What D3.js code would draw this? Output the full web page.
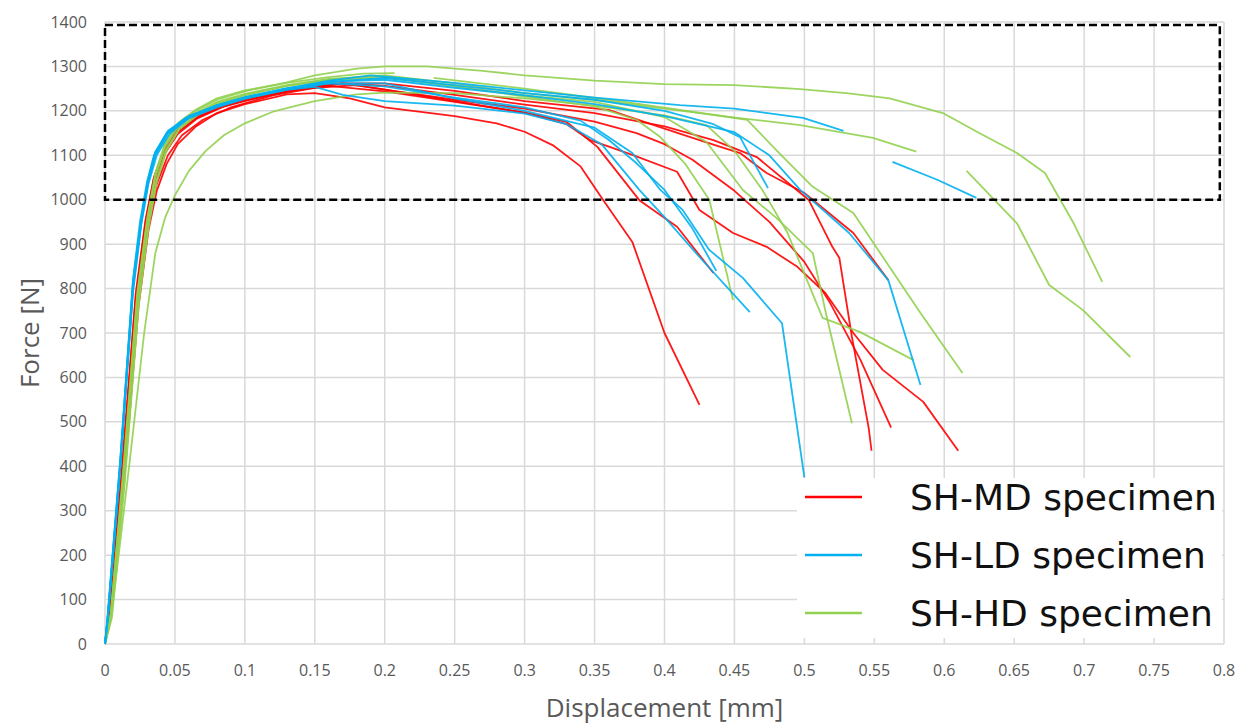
<!DOCTYPE html>
<html>
<head>
<meta charset="utf-8">
<script src="https://cdn.jsdelivr.net/npm/d3@7"></script>
<style>
  body { margin: 0; background: #fff; }
  svg { display: block; }
</style>
</head>
<body>
<div id="chart"></div>
<script>
// Force-displacement curves. null = gap in the data.
const xTicks = [0, 0.05, 0.1, 0.15, 0.2, 0.25, 0.3, 0.35, 0.4, 0.45, 0.5, 0.55, 0.6, 0.65, 0.7, 0.75, 0.8];
const yTicks = [0, 100, 200, 300, 400, 500, 600, 700, 800, 900, 1000, 1100, 1200, 1300, 1400];
const legendLabels = ["SH-MD specimen", "SH-LD specimen", "SH-HD specimen"];
const colors = ["#ff0000", "#00b0f0", "#92d050"];
const zoomBox = [[0, 1000], [0.797, 1393]];

const mdSeries = [
  [[0,0],[0.004,80],[0.014,380],[0.024,760],[0.031,930],[0.037,1020],[0.044,1080],[0.052,1125],[0.065,1165],[0.08,1195],[0.1,1215],[0.13,1237],[0.15,1240],[0.175,1228],[0.2,1208],[0.25,1188],[0.28,1172],[0.3,1153],[0.32,1123],[0.34,1075],[0.356,1000],[0.377,905],[0.4,700],[0.425,538]],
  [[0,0],[0.003,70],[0.012,380],[0.022,780],[0.029,950],[0.035,1050],[0.042,1110],[0.05,1150],[0.065,1185],[0.08,1205],[0.1,1225],[0.13,1245],[0.17,1262],[0.2,1248],[0.25,1222],[0.3,1196],[0.33,1175],[0.352,1119],[0.382,999],[0.409,939],[0.435,835]],
  [[0,0],[0.003,60],[0.013,390],[0.023,790],[0.03,950],[0.036,1045],[0.043,1105],[0.052,1148],[0.066,1183],[0.085,1210],[0.11,1230],[0.14,1250],[0.17,1262],[0.2,1256],[0.25,1236],[0.3,1214],[0.35,1195],[0.4,1165],[0.435,1134],[0.466,1096],[0.503,1000],[0.52,894],[0.525,869],[0.534,691],[0.546,486],[0.548,435]],
  [[0,0],[0.004,75],[0.013,370],[0.024,780],[0.031,940],[0.037,1035],[0.045,1100],[0.055,1145],[0.07,1180],[0.09,1208],[0.12,1235],[0.15,1252],[0.18,1258],[0.2,1248],[0.25,1225],[0.3,1205],[0.35,1176],[0.38,1150],[0.4,1125],[0.42,1090],[0.45,1020],[0.475,950],[0.5,860],[0.518,770],[0.54,640],[0.562,487]],
  [[0,0],[0.003,70],[0.012,380],[0.022,770],[0.029,940],[0.035,1040],[0.042,1105],[0.05,1148],[0.065,1183],[0.08,1205],[0.1,1224],[0.13,1244],[0.16,1256],[0.2,1244],[0.25,1220],[0.3,1196],[0.33,1170],[0.347,1134],[0.377,1101],[0.409,1063],[0.425,977],[0.449,925],[0.473,894],[0.495,849],[0.515,790],[0.535,700],[0.556,617],[0.585,545],[0.61,435]],
  [[0,0],[0.003,65],[0.012,390],[0.022,790],[0.029,955],[0.035,1050],[0.042,1112],[0.05,1152],[0.065,1188],[0.08,1210],[0.1,1228],[0.13,1248],[0.16,1262],[0.2,1262],[0.25,1245],[0.3,1222],[0.36,1202],[0.4,1160],[0.425,1134],[0.454,1105],[0.473,1060],[0.5,1015],[0.535,925],[0.56,819]]
];

const ldSeries = [
  [[0,0],[0.002,60],[0.011,400],[0.02,800],[0.026,950],[0.031,1040],[0.036,1100],[0.045,1150],[0.06,1185],[0.08,1212],[0.1,1230],[0.13,1250],[0.16,1268],[0.19,1280],[0.25,1263],[0.3,1246],[0.35,1230],[0.411,1213],[0.45,1205],[0.499,1184],[0.528,1155],null,[0.563,1085],[0.595,1045],[0.623,1004]],
  [[0,0],[0.002,60],[0.011,410],[0.02,810],[0.026,955],[0.031,1045],[0.036,1105],[0.045,1152],[0.06,1186],[0.08,1212],[0.1,1230],[0.13,1250],[0.16,1265],[0.2,1274],[0.25,1258],[0.3,1240],[0.35,1225],[0.4,1200],[0.435,1170],[0.454,1141],[0.474,1026]],
  [[0,0],[0.002,70],[0.011,420],[0.02,820],[0.025,950],[0.03,1040],[0.035,1100],[0.044,1150],[0.058,1185],[0.08,1210],[0.1,1228],[0.13,1247],[0.15,1254],[0.17,1236],[0.2,1222],[0.25,1212],[0.3,1194],[0.33,1170],[0.355,1125],[0.382,1022],[0.4,961],[0.425,871],[0.461,747]],
  [[0,0],[0.002,55],[0.011,400],[0.02,790],[0.026,945],[0.031,1035],[0.037,1100],[0.046,1148],[0.06,1183],[0.08,1208],[0.1,1227],[0.13,1248],[0.16,1262],[0.2,1262],[0.25,1228],[0.3,1200],[0.35,1162],[0.377,1105],[0.397,1022],[0.413,977],[0.432,887],[0.456,824],[0.484,722],[0.5,375]],
  [[0,0],[0.002,60],[0.011,405],[0.02,805],[0.026,955],[0.031,1045],[0.036,1105],[0.045,1152],[0.06,1188],[0.08,1213],[0.1,1231],[0.13,1251],[0.16,1266],[0.2,1270],[0.25,1252],[0.3,1235],[0.35,1215],[0.4,1188],[0.45,1152],[0.475,1100],[0.497,1022],[0.532,925],[0.56,819],[0.583,583]],
  [[0,0],[0.002,65],[0.011,415],[0.02,815],[0.026,958],[0.031,1048],[0.036,1108],[0.045,1155],[0.06,1188],[0.08,1212],[0.1,1230],[0.13,1250],[0.16,1262],[0.2,1255],[0.25,1230],[0.3,1208],[0.34,1178],[0.36,1135],[0.38,1082],[0.4,1022],[0.42,935],[0.437,840]]
];

const hdSeries = [
  [[0,0],[0.004,60],[0.013,380],[0.023,780],[0.03,950],[0.036,1055],[0.043,1125],[0.052,1170],[0.065,1200],[0.08,1225],[0.1,1244],[0.13,1264],[0.15,1280],[0.18,1295],[0.2,1300],[0.23,1300],[0.27,1290],[0.3,1280],[0.35,1268],[0.4,1260],[0.45,1258],[0.497,1249],[0.53,1240],[0.561,1228],[0.599,1195],[0.625,1150],[0.652,1105],[0.672,1060],[0.692,950],[0.713,815]],
  [[0,0],[0.004,55],[0.013,370],[0.023,770],[0.03,945],[0.036,1050],[0.043,1118],[0.052,1163],[0.065,1195],[0.08,1220],[0.1,1238],[0.13,1258],[0.16,1272],[0.2,1280],[0.25,1262],[0.3,1240],[0.35,1225],[0.4,1205],[0.45,1185],[0.497,1168],[0.549,1139],[0.58,1108],null,[0.616,1065],[0.652,947],[0.675,808],[0.699,752],[0.733,646]],
  [[0,0],[0.005,60],[0.014,360],[0.024,760],[0.031,935],[0.037,1040],[0.044,1110],[0.053,1158],[0.066,1190],[0.08,1215],[0.1,1235],[0.13,1256],[0.16,1270],[0.2,1278],[0.25,1256],[0.3,1232],[0.35,1210],[0.38,1180],[0.397,1141],[0.415,1080],[0.432,1000],[0.449,774]],
  [[0,0],[0.004,55],[0.014,370],[0.024,770],[0.031,940],[0.037,1045],[0.044,1115],[0.053,1160],[0.066,1193],[0.08,1218],[0.1,1236],[0.13,1256],[0.16,1270],[0.2,1275],[0.25,1255],[0.3,1235],[0.35,1220],[0.4,1186],[0.43,1130],[0.456,1022],[0.48,959],[0.506,880],[0.516,736],[0.534,497]],
  [[0,0],[0.006,100],[0.018,420],[0.028,700],[0.036,880],[0.043,960],[0.05,1010],[0.06,1065],[0.072,1110],[0.085,1145],[0.1,1172],[0.12,1198],[0.15,1222],[0.18,1237],[0.2,1241],[0.25,1240],[0.3,1228],[0.35,1212],[0.4,1190],[0.43,1168],[0.45,1110],[0.47,1022],[0.488,925],[0.513,734],[0.54,702],[0.578,639]],
  [[0,0],[0.004,65],[0.013,390],[0.023,790],[0.03,955],[0.036,1060],[0.043,1128],[0.052,1172],[0.065,1203],[0.08,1228],[0.1,1246],[0.13,1263],[0.16,1276],[0.185,1284],[0.207,1285],null,[0.235,1274],[0.3,1250],[0.36,1225],[0.411,1202],[0.459,1180],[0.482,1105],[0.506,1029],[0.535,970],[0.583,745],[0.613,610]]
];

const W = 1249, H = 724;
const svg = d3.select("#chart").append("svg")
  .attr("width", W)
  .attr("height", H);

const x = d3.scaleLinear().domain([0, 0.8]).range([105, 1224]);
const y = d3.scaleLinear().domain([0, 1400]).range([644, 22]);

const tickFont = "'Open Sans', 'Noto Sans', sans-serif";

// grid
svg.append("g").selectAll("line.h")
  .data(yTicks).enter().append("line")
  .attr("x1", x(0)).attr("x2", x(0.8))
  .attr("y1", d => y(d)).attr("y2", d => y(d))
  .attr("stroke", "#d9d9d9").attr("stroke-width", 1.5);
svg.append("g").selectAll("line.v")
  .data(xTicks).enter().append("line")
  .attr("y1", y(0)).attr("y2", y(1400))
  .attr("x1", d => x(d)).attr("x2", d => x(d))
  .attr("stroke", "#d9d9d9").attr("stroke-width", 1.5);

// tick labels
svg.append("g").selectAll("text")
  .data(yTicks).enter().append("text")
  .attr("x", 87).attr("y", d => y(d))
  .attr("dy", "0.35em")
  .attr("text-anchor", "end")
  .style("font-family", tickFont).style("font-size", "16px").style("fill", "#595959")
  .text(d => d);
svg.append("g").selectAll("text")
  .data(xTicks).enter().append("text")
  .attr("x", d => x(d)).attr("y", 670)
  .attr("dy", "0.35em")
  .attr("text-anchor", "middle")
  .style("font-family", tickFont).style("font-size", "16px").style("fill", "#595959")
  .text(d => d);

// axis titles
svg.append("text")
  .attr("transform", "translate(30," + ((y(0) + y(1400)) / 2) + ") rotate(-90)")
  .attr("text-anchor", "middle").attr("dy", "0.35em")
  .style("font-family", tickFont).style("font-size", "26px").style("fill", "#595959")
  .text("Force [N]");
svg.append("text")
  .attr("x", (x(0) + x(0.8)) / 2).attr("y", 708).attr("dy", "0.35em")
  .attr("text-anchor", "middle")
  .style("font-family", tickFont).style("font-size", "26px").style("fill", "#595959")
  .text("Displacement [mm]");

// curves
const line = d3.line()
  .defined(d => d !== null)
  .x(d => x(d[0]))
  .y(d => y(d[1]));

const groups = [mdSeries, hdSeries, ldSeries];
const groupColors = [colors[0], colors[2], colors[1]];
groups.forEach(function(series, i) {
  svg.append("g").selectAll("path")
    .data(series).enter().append("path")
    .attr("d", line)
    .attr("fill", "none")
    .attr("stroke", groupColors[i])
    .attr("stroke-width", 1.8)
    .attr("stroke-linejoin", "round")
    .attr("opacity", 0.9);
});

// dashed box
svg.append("rect")
  .attr("x", x(zoomBox[0][0])).attr("y", y(zoomBox[1][1]))
  .attr("width", x(zoomBox[1][0]) - x(zoomBox[0][0]))
  .attr("height", y(zoomBox[0][1]) - y(zoomBox[1][1]))
  .attr("fill", "none")
  .attr("stroke", "#000")
  .attr("stroke-width", 2.5)
  .attr("stroke-dasharray", "8,4");

// legend
const legend = svg.append("g");
legend.append("rect")
  .attr("x", 797).attr("y", 478)
  .attr("width", 425).attr("height", 160)
  .attr("fill", "#fff");
const entry = legend.selectAll("g.entry")
  .data(legendLabels).enter().append("g")
  .attr("transform", (d, i) => "translate(0," + (497 + i * 58) + ")");
entry.append("line")
  .attr("x1", 805).attr("x2", 862)
  .attr("stroke", (d, i) => colors[i])
  .attr("stroke-width", 2.5);
entry.append("text")
  .attr("x", 910).attr("dy", "0.36em")
  .style("font-family", "'DejaVu Sans', sans-serif")
  .style("font-size", "36px")
  .style("fill", "#111")
  .text(d => d);
</script>
</body>
</html>
